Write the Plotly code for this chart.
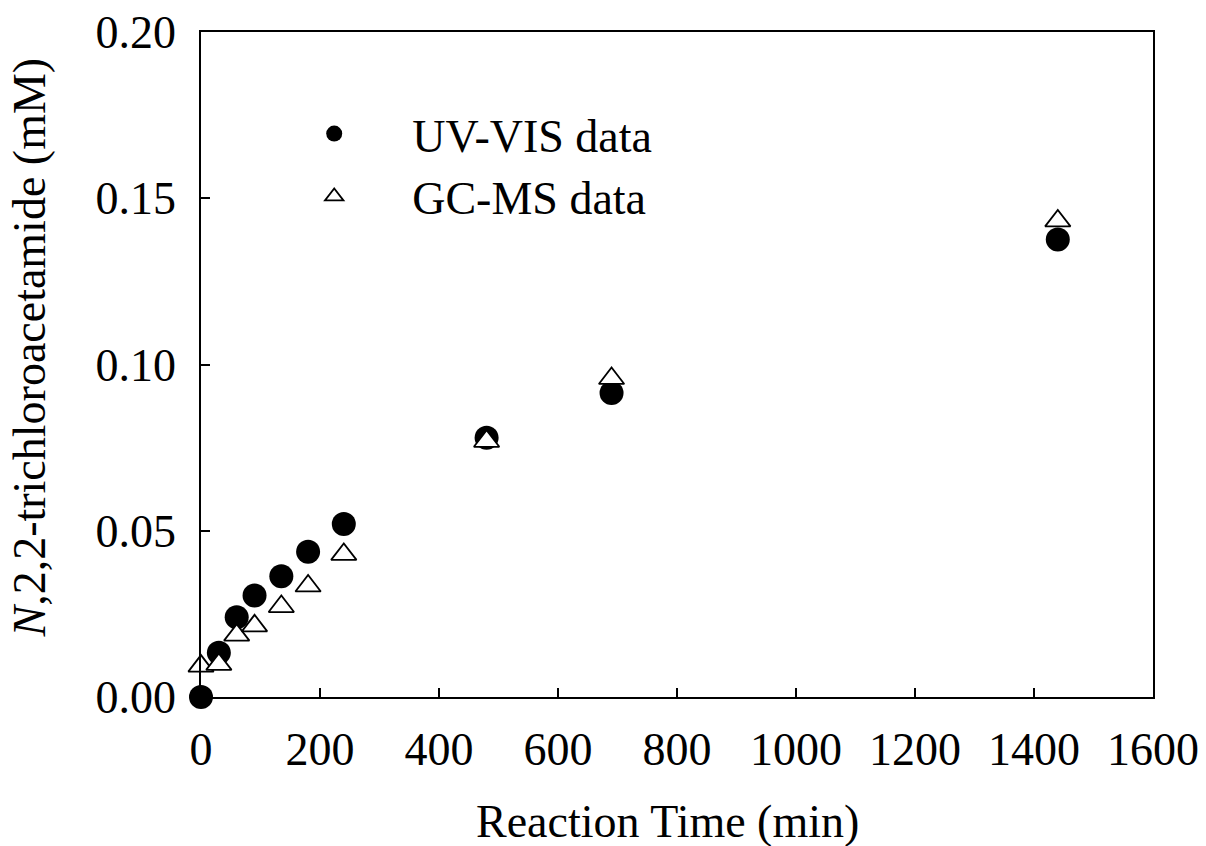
import plotly.graph_objects as go

time_min = [0, 30, 60, 90, 135, 180, 240, 480, 690, 1440]
uv_vis = [0.0, 0.0133, 0.0240, 0.0305, 0.0363, 0.0437, 0.0520, 0.0780, 0.0914, 0.1376]
gc_ms = [0.0093, 0.0098, 0.0186, 0.0214, 0.0272, 0.0334, 0.0429, 0.0769, 0.0958, 0.1432]

x_ticks = [0, 200, 400, 600, 800, 1000, 1200, 1400, 1600]
y_ticks = [0.00, 0.05, 0.10, 0.15, 0.20]

FONT = "Liberation Serif, Times New Roman, serif"

fig = go.Figure()
fig.add_trace(go.Scatter(
    x=time_min, y=uv_vis, mode="markers", name="UV-VIS data",
    marker=dict(symbol="circle", size=24, color="black", line=dict(width=0)),
    cliponaxis=False,
))
fig.add_trace(go.Scatter(
    x=time_min, y=gc_ms, mode="markers", name="GC-MS data",
    marker=dict(symbol="triangle-up", size=22, color="white",
                line=dict(width=1.8, color="black")),
    cliponaxis=False,
))

axis_common = dict(
    showline=True, linecolor="black", linewidth=1.5, mirror=True,
    ticks="inside", ticklen=9, tickwidth=1.5, tickcolor="black",
    showgrid=False, zeroline=False, automargin=False,
    tickfont=dict(family=FONT, size=46, color="black"),
)

fig.update_layout(
    width=1206, height=846,
    margin=dict(l=201, r=53, t=32, b=149),
    paper_bgcolor="white", plot_bgcolor="white",
    font=dict(family=FONT, size=46, color="black"),
    showlegend=True,
    legend=dict(
        x=0.058, y=0.902, xanchor="left", yanchor="top",
        bgcolor="rgba(0,0,0,0)", borderwidth=0,
        font=dict(family=FONT, size=46, color="black"),
        itemwidth=146, tracegroupgap=0,
    ),
)
fig.update_xaxes(
    range=[0, 1600], tickvals=x_ticks, ticktext=[str(v) for v in x_ticks],
    ticklabelstandoff=11,
    **axis_common,
)
fig.update_yaxes(
    range=[0, 0.2], tickvals=y_ticks, ticktext=[f"{v:.2f}" for v in y_ticks],
    ticklabelstandoff=14,
    **axis_common,
)

fig.add_annotation(
    text="Reaction Time (min)", xref="paper", yref="paper",
    x=0.49, y=-0.187, xanchor="center", yanchor="middle", showarrow=False,
    font=dict(family=FONT, size=46, color="black"),
)
fig.add_annotation(
    text="<i>N</i>,2,2-trichloroacetamide (mM)", xref="paper", yref="paper",
    x=-0.18, y=0.525, xanchor="center", yanchor="middle", showarrow=False,
    textangle=-90,
    font=dict(family=FONT, size=46, color="black"),
)

fig.write_html("out.html")
